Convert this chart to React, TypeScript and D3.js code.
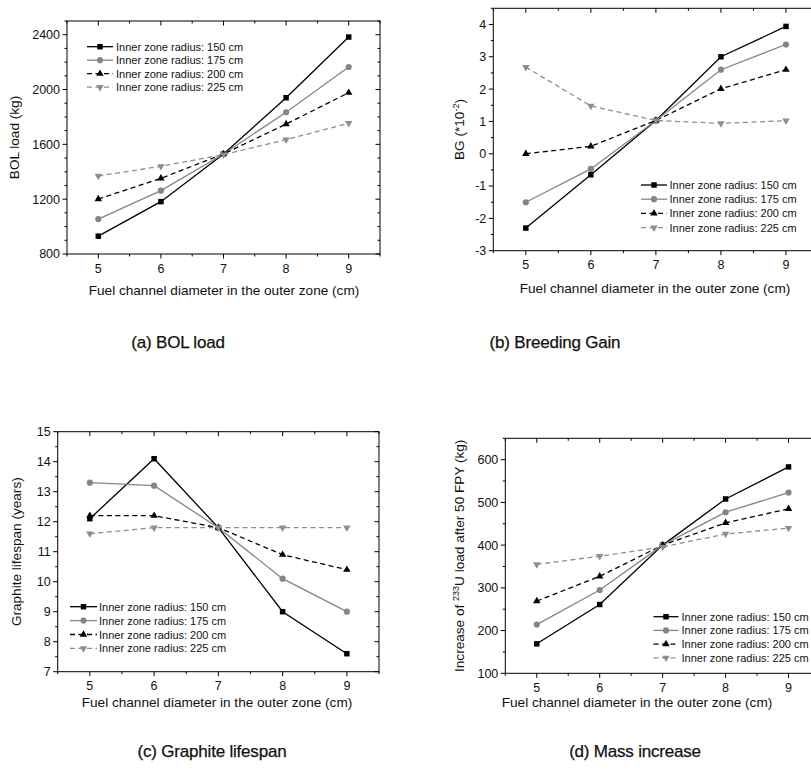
import React from "react";
import * as d3 from "d3";

// ---------- DATA ----------
const xValues = [5, 6, 7, 8, 9];
const seriesLabels = [
  "Inner zone radius: 150 cm",
  "Inner zone radius: 175 cm",
  "Inner zone radius: 200 cm",
  "Inner zone radius: 225 cm",
];

// (a) BOL load (kg)
const bol150 = [930, 1182, 1530, 1940, 2383];
const bol175 = [1055, 1262, 1530, 1834, 2164];
const bol200 = [1201, 1352, 1530, 1748, 1977];
const bol225 = [1369, 1440, 1525, 1634, 1754];
const bolTicks = [800, 1200, 1600, 2000, 2400];

// (b) Breeding gain (*10^-2)
const bg150 = [-2.3, -0.65, 1.03, 3.0, 3.94];
const bg175 = [-1.5, -0.47, 1.03, 2.6, 3.38];
const bg200 = [0.0, 0.23, 1.03, 2.01, 2.6];
const bg225 = [2.68, 1.48, 1.03, 0.94, 1.02];
const bgTicks = [-3, -2, -1, 0, 1, 2, 3, 4];

// (c) Graphite lifespan (years)
const gl150 = [12.1, 14.1, 11.8, 9.0, 7.6];
const gl175 = [13.3, 13.2, 11.8, 10.1, 9.0];
const gl200 = [12.2, 12.2, 11.8, 10.9, 10.4];
const gl225 = [11.6, 11.8, 11.8, 11.8, 11.8];
const glTicks = [7, 8, 9, 10, 11, 12, 13, 14, 15];

// (d) Increase of 233U load after 50 FPY (kg)
const mi150 = [169, 261, 400, 508, 583];
const mi175 = [214, 295, 400, 477, 523];
const mi200 = [269, 327, 400, 452, 485];
const mi225 = [355, 374, 396, 426, 440];
const miTicks = [100, 200, 300, 400, 500, 600];

// ---------- STYLE ----------
const FONT = "'Liberation Sans', Arial, Helvetica, sans-serif";
const seriesColors = ["#000000", "#858585", "#000000", "#8e8e8e"];
const seriesDash = [null, null, "5,3.5", "5,3.5"];
const seriesMarkers = ["square", "circle", "triUp", "triDown"];

function markerPath(kind: string) {
  if (kind === "square") return d3.symbol(d3.symbolSquare, 30)()!;
  if (kind === "circle") return d3.symbol(d3.symbolCircle, 30)()!;
  return d3.symbol(d3.symbolTriangle, 24)()!;
}

function Marker({ kind, x, y, color }: any) {
  const rot = kind === "triDown" ? 180 : 0;
  return (
    <path
      d={markerPath(kind)}
      transform={`translate(${x},${y}) rotate(${rot})`}
      fill={color}
      stroke="none"
    />
  );
}

type PanelProps = {
  frame: { left: number; right: number; top: number; bottom: number };
  yDomain: [number, number];
  yTicks: number[];
  yMinorStep: number;
  series: number[][];
  legend: { x1: number; x2: number; tx: number; y: number; dy: number };
  yLabel: React.ReactNode;
  yLabelX: number;
  xLabelX: number;
  xLabelY: number;
  subtitle: string;
  subX: number;
  subY: number;
};

function Panel(p: PanelProps) {
  const { left, right, top, bottom } = p.frame;
  const x = d3.scaleLinear().domain([4.5, 9.5]).range([left, right]);
  const y = d3.scaleLinear().domain(p.yDomain).range([bottom, top]);
  const xMinor = d3.range(4.5, 9.51, 0.5).filter((v) => !xValues.includes(v));
  const yMinor: number[] = [];
  for (let v = p.yDomain[0]; v <= p.yDomain[1] + 1e-9; v += p.yMinorStep) {
    if (!p.yTicks.some((t) => Math.abs(t - v) < 1e-9)) yMinor.push(v);
  }
  const line = d3
    .line<number>()
    .x((_, i) => x(xValues[i]))
    .y((d) => y(d));
  const M = 4.5;
  const m = 2.5;
  return (
    <g fontFamily={FONT}>
      <rect
        x={left}
        y={top}
        width={right - left}
        height={bottom - top}
        fill="none"
        stroke="#000"
        strokeWidth={1}
      />
      {xValues.map((v) => (
        <g key={"xt" + v}>
          <line x1={x(v)} x2={x(v)} y1={bottom} y2={bottom + M} stroke="#000" />
          <line x1={x(v)} x2={x(v)} y1={top} y2={top + M} stroke="#000" />
          <text x={x(v)} y={bottom + 18.5} fontSize={12.5} textAnchor="middle" fill="#111">
            {v}
          </text>
        </g>
      ))}
      {xMinor.map((v) => (
        <g key={"xm" + v}>
          <line x1={x(v)} x2={x(v)} y1={bottom} y2={bottom + m} stroke="#000" />
          <line x1={x(v)} x2={x(v)} y1={top} y2={top + m} stroke="#000" />
        </g>
      ))}
      {p.yTicks.map((v) => (
        <g key={"yt" + v}>
          <line x1={left - M} x2={left} y1={y(v)} y2={y(v)} stroke="#000" />
          <line x1={right - M} x2={right} y1={y(v)} y2={y(v)} stroke="#000" />
          <text x={left - 7} y={y(v) + 4.4} fontSize={12.5} textAnchor="end" fill="#111">
            {v}
          </text>
        </g>
      ))}
      {yMinor.map((v) => (
        <g key={"ym" + v}>
          <line x1={left - m} x2={left} y1={y(v)} y2={y(v)} stroke="#000" />
          <line x1={right - m} x2={right} y1={y(v)} y2={y(v)} stroke="#000" />
        </g>
      ))}
      {p.series.map((s, i) => (
        <g key={"s" + i}>
          <path
            d={line(s)!}
            fill="none"
            stroke={seriesColors[i]}
            strokeWidth={1.3}
            strokeDasharray={seriesDash[i] ?? undefined}
          />
          {s.map((v, j) => (
            <Marker key={j} kind={seriesMarkers[i]} x={x(xValues[j])} y={y(v)} color={seriesColors[i]} />
          ))}
        </g>
      ))}
      {seriesLabels.map((lab, i) => {
        const ly = p.legend.y + i * p.legend.dy;
        return (
          <g key={"l" + i}>
            <line
              x1={p.legend.x1}
              x2={p.legend.x2}
              y1={ly}
              y2={ly}
              stroke={seriesColors[i]}
              strokeWidth={1.3}
              strokeDasharray={seriesDash[i] ?? undefined}
            />
            <Marker kind={seriesMarkers[i]} x={(p.legend.x1 + p.legend.x2) / 2} y={ly} color={seriesColors[i]} />
            <text x={p.legend.tx} y={ly + 4} fontSize={11} fill="#111">
              {lab}
            </text>
          </g>
        );
      })}
      <text x={p.xLabelX} y={p.xLabelY} fontSize={13.6} textAnchor="middle" fill="#111">
        Fuel channel diameter in the outer zone (cm)
      </text>
      <text
        transform={`translate(${p.yLabelX},${(top + bottom) / 2}) rotate(-90)`}
        fontSize={13.6}
        textAnchor="middle"
        fill="#111"
      >
        {p.yLabel}
      </text>
      <text
        x={p.subX}
        y={p.subY}
        fontSize={17}
        letterSpacing={-0.2}
        textAnchor="middle"
        fill="#111"
        stroke="#111"
        strokeWidth={0.25}
      >
        {p.subtitle}
      </text>
    </g>
  );
}

export default function App() {
  return (
    <svg
      width={811}
      height={774}
      style={{ position: "absolute", left: 0, top: 0, display: "block", background: "#fff" }}
    >
      <rect x={0} y={0} width={811} height={774} fill="#fff" />
      <Panel
        frame={{ left: 67, right: 380, top: 21, bottom: 254 }}
        yDomain={[800, 2500]}
        yTicks={bolTicks}
        yMinorStep={100}
        series={[bol150, bol175, bol200, bol225]}
        legend={{ x1: 87, x2: 113, tx: 116, y: 46.7, dy: 13.5 }}
        yLabel="BOL load (kg)"
        yLabelX={19}
        xLabelX={224}
        xLabelY={294.5}
        subtitle="(a) BOL load"
        subX={178}
        subY={347.5}
      />
      <Panel
        frame={{ left: 493.3, right: 818.5, top: 8.3, bottom: 250.7 }}
        yDomain={[-3, 4.5]}
        yTicks={bgTicks}
        yMinorStep={0.5}
        series={[bg150, bg175, bg200, bg225]}
        legend={{ x1: 641, x2: 667, tx: 669.5, y: 185, dy: 14.2 }}
        yLabel={
          <>
            BG (*10
            <tspan dy={-5} fontSize={9}>
              -2
            </tspan>
            <tspan dy={5}>)</tspan>
          </>
        }
        yLabelX={464}
        xLabelX={655}
        xLabelY={292.5}
        subtitle="(b) Breeding Gain"
        subX={555}
        subY={347.5}
      />
      <Panel
        frame={{ left: 57.7, right: 379, top: 431.7, bottom: 671.7 }}
        yDomain={[7, 15]}
        yTicks={glTicks}
        yMinorStep={0.5}
        series={[gl150, gl175, gl200, gl225]}
        legend={{ x1: 70, x2: 97, tx: 99, y: 606.7, dy: 13.9 }}
        yLabel="Graphite lifespan (years)"
        yLabelX={21}
        xLabelX={217}
        xLabelY={707}
        subtitle="(c) Graphite lifespan"
        subX={212}
        subY={757}
      />
      <Panel
        frame={{ left: 505.3, right: 820, top: 438.3, bottom: 673.3 }}
        yDomain={[100, 650]}
        yTicks={miTicks}
        yMinorStep={50}
        series={[mi150, mi175, mi200, mi225]}
        legend={{ x1: 653.5, x2: 678.5, tx: 681.5, y: 616.7, dy: 13.7 }}
        yLabel={
          <>
            Increase of{" "}
            <tspan dy={-5} fontSize={9}>
              233
            </tspan>
            <tspan dy={5}>U load after 50 FPY (kg)</tspan>
          </>
        }
        yLabelX={464}
        xLabelX={637}
        xLabelY={707}
        subtitle="(d) Mass increase"
        subX={635}
        subY={757}
      />
    </svg>
  );
}
